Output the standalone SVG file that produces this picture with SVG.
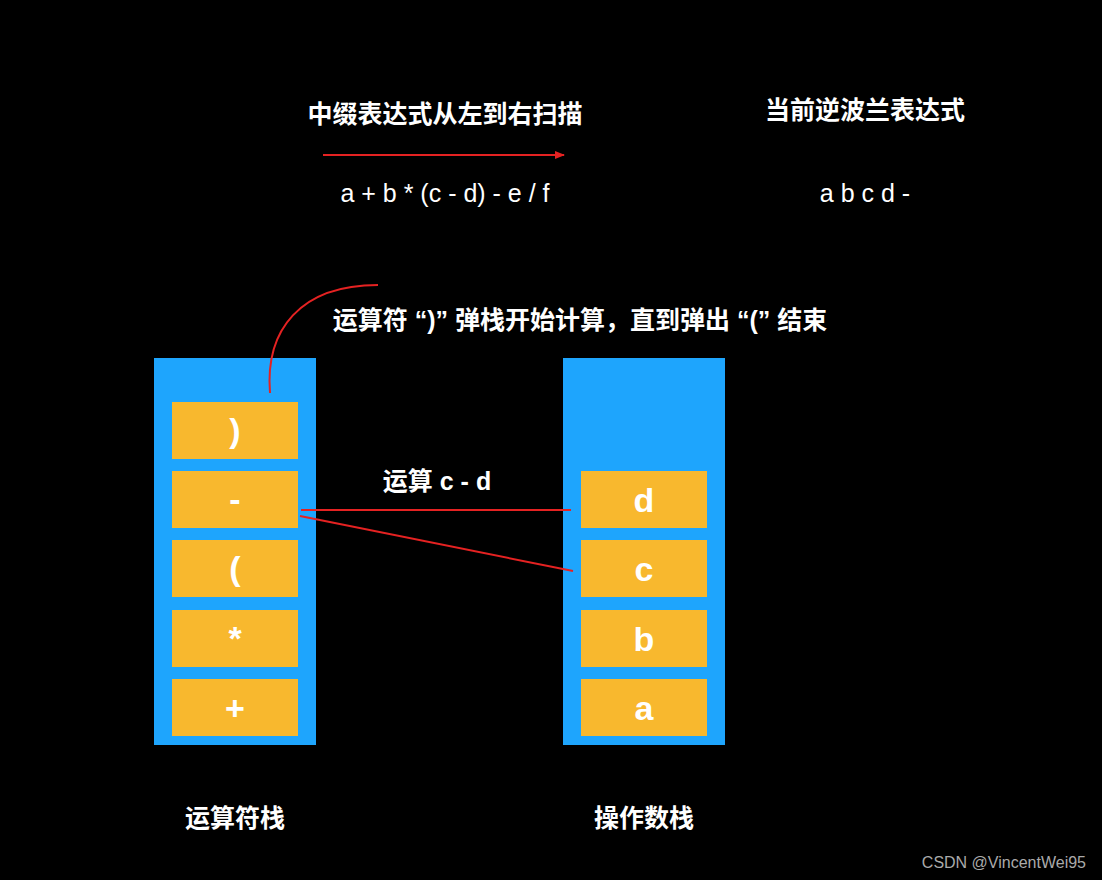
<svg xmlns="http://www.w3.org/2000/svg" width="1102" height="880" viewBox="0 0 1102 880">
<style>
.t{font-family:"Liberation Sans","Noto Sans CJK SC",sans-serif;fill:#fff;font-size:25px;font-weight:bold;text-anchor:middle}
.c{font-family:"Liberation Sans",sans-serif;fill:#fff;font-size:34px;font-weight:bold;text-anchor:middle}
.stk{fill:#1ea5fd}
.cell{fill:#f8b82e}
.r{stroke:#e52222;stroke-width:2;fill:none}
</style>
<defs><marker id="ah" markerWidth="10" markerHeight="8" refX="9" refY="4" orient="auto" markerUnits="userSpaceOnUse"><path d="M0,0L10,4L0,8z" fill="#e52222"/></marker></defs>
<rect width="1102" height="880" fill="#000"/>
<text class="t" x="445" y="123">中缀表达式从左到右扫描</text>
<text class="t" x="865" y="119">当前逆波兰表达式</text>
<text class="t" x="445" y="202" style="font-weight:normal">a + b * (c - d) - e / f</text>
<text class="t" x="865" y="202" style="font-weight:normal">a b c d -</text>
<text class="t" x="580" y="329">运算符 “)” 弹栈开始计算，直到弹出 “(” 结束</text>
<text class="t" x="437" y="490">运算 c - d</text>
<g id="opstack"><rect class="stk" x="154" y="358" width="162" height="387"/>
<rect class="cell" x="172" y="402" width="126" height="57"/><text class="c" x="235" y="442">)</text>
<rect class="cell" x="172" y="471" width="126" height="57"/><text class="c" x="235" y="511">-</text>
<rect class="cell" x="172" y="540" width="126" height="57"/><text class="c" x="235" y="580">(</text>
<rect class="cell" x="172" y="610" width="126" height="57"/><text class="c" x="235" y="650">*</text>
<rect class="cell" x="172" y="679" width="126" height="57"/><text class="c" x="235" y="720">+</text>
</g>
<g id="numstack"><rect class="stk" x="563" y="358" width="162" height="387"/>
<rect class="cell" x="581" y="471" width="126" height="57"/><text class="c" x="644" y="512">d</text>
<rect class="cell" x="581" y="540" width="126" height="57"/><text class="c" x="644" y="581">c</text>
<rect class="cell" x="581" y="610" width="126" height="57"/><text class="c" x="644" y="651">b</text>
<rect class="cell" x="581" y="679" width="126" height="57"/><text class="c" x="644" y="720">a</text>
</g>
<g id="connectors">
<line class="r" x1="323" y1="155" x2="564" y2="155" marker-end="url(#ah)"/>
<path class="r" d="M270,393 C265,330 300,285 378,285"/>
<line class="r" x1="301" y1="510" x2="571" y2="510"/>
<line class="r" x1="300" y1="516" x2="573" y2="571"/>
</g>
<text class="t" x="235" y="827">运算符栈</text>
<text class="t" x="644" y="827">操作数栈</text>
<text x="1086" y="868" style="font-family:'Liberation Sans',sans-serif;font-size:16px;fill:#aaa;text-anchor:end">CSDN @VincentWei95</text>
</svg>
